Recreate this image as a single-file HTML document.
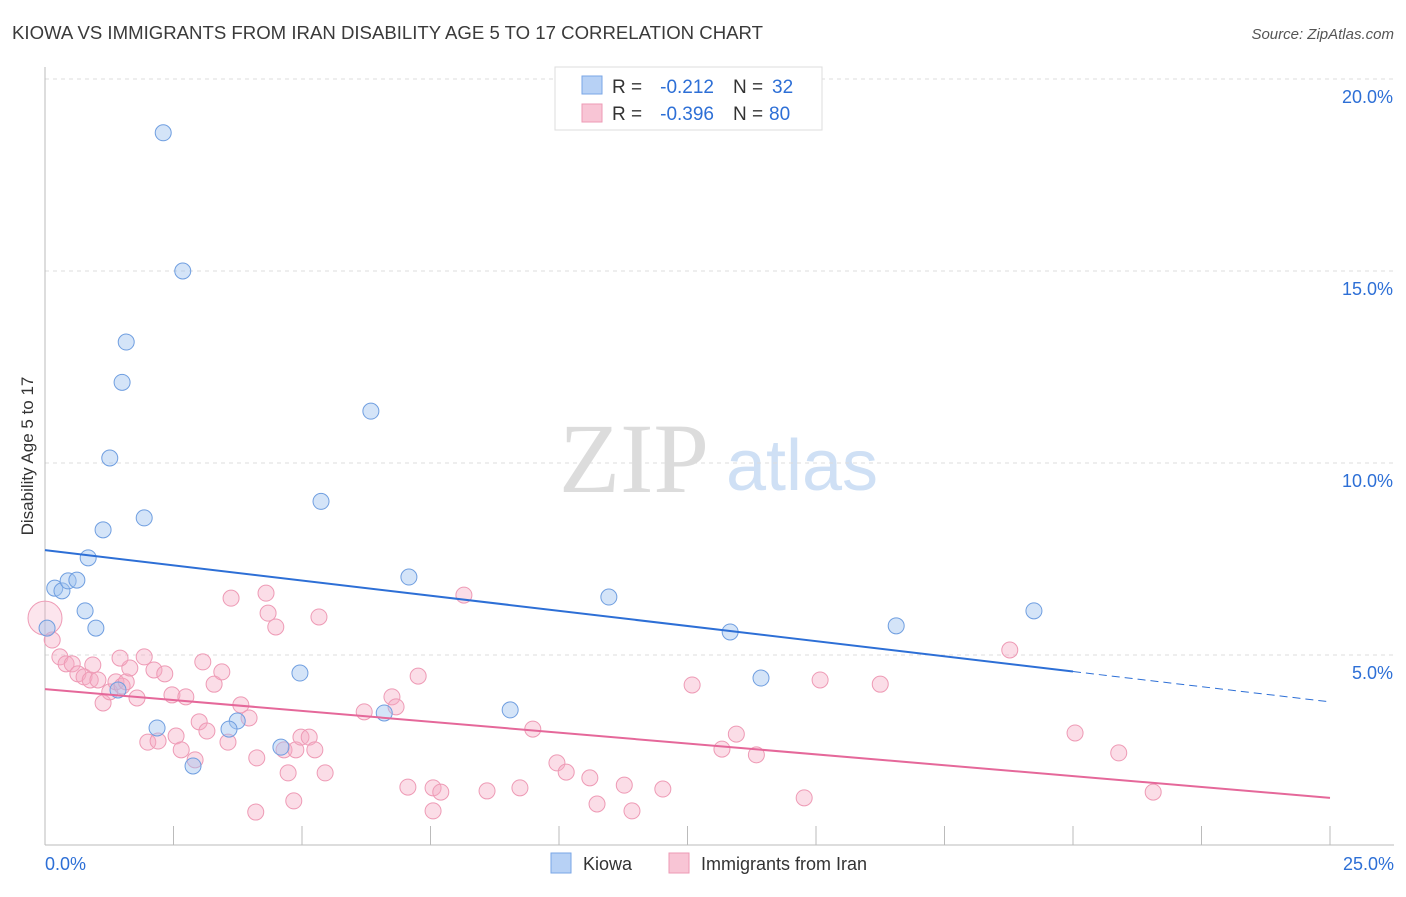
<!DOCTYPE html>
<html><head><meta charset="utf-8"><style>
body{margin:0;background:#fff;font-family:"Liberation Sans",sans-serif;}
</style></head><body>
<svg id="chart" width="1406" height="892" xmlns="http://www.w3.org/2000/svg" style="font-family:'Liberation Sans',sans-serif">
<text x="12" y="39" font-size="18" fill="#3a3a3a" textLength="751" lengthAdjust="spacingAndGlyphs">KIOWA VS IMMIGRANTS FROM IRAN DISABILITY AGE 5 TO 17 CORRELATION CHART</text>
<text x="1394" y="39" font-size="15" fill="#555" text-anchor="end" font-style="italic">Source: ZipAtlas.com</text>
<g><text x="634" y="492" font-size="100" fill="#dcdcdc" text-anchor="middle" style="font-family:'Liberation Serif',serif">ZIP</text><text x="802" y="490" font-size="72" fill="#cfe0f5" text-anchor="middle">atlas</text></g>
<g id="grid"></g><g id="axes"></g><g id="marks"></g>
<text transform="translate(33,456) rotate(-90)" font-size="17" fill="#333" text-anchor="middle">Disability Age 5 to 17</text>
<g>
<rect x="555" y="67" width="267" height="63" fill="#fff" stroke="#ddd"/>
<rect x="582" y="76" width="20" height="18" fill="#b7d1f5" stroke="#7aa6e6"/>
<rect x="582" y="104" width="20" height="18" fill="#f8c5d5" stroke="#ee9ab5"/>
<text x="612" y="93" font-size="19" fill="#333">R =</text>
<text x="714" y="93" font-size="19" fill="#2d6fd6" text-anchor="end">-0.212</text>
<text x="733" y="93" font-size="19" fill="#333">N =</text>
<text x="772" y="93" font-size="19" fill="#2d6fd6">32</text>
<text x="612" y="120" font-size="19" fill="#333">R =</text>
<text x="714" y="120" font-size="19" fill="#2d6fd6" text-anchor="end">-0.396</text>
<text x="733" y="120" font-size="19" fill="#333">N =</text>
<text x="769" y="120" font-size="19" fill="#2d6fd6">80</text>
</g>
<g>
<rect x="551" y="853" width="20" height="20" fill="#b7d1f5" stroke="#7aa6e6"/>
<text x="583" y="870" font-size="18" fill="#333">Kiowa</text>
<rect x="669" y="853" width="20" height="20" fill="#f8c5d5" stroke="#ee9ab5"/>
<text x="701" y="870" font-size="18" fill="#333">Immigrants from Iran</text>
</g>
</svg>
<script>
const kiowaX=[2.30,2.68,1.58,1.50,1.26,6.34,5.37,1.93,1.13,0.84,0.19,0.33,0.45,0.62,0.78,0.99,0.04,7.08,10.97,13.33,16.56,19.24,4.96,1.42,13.93,9.05,6.60,3.74,2.18,3.58,4.59,2.88];
const kiowaY=[18.6,15.0,13.15,12.1,10.13,11.35,9.0,8.57,8.26,7.53,6.74,6.67,6.93,6.95,6.15,5.70,5.70,7.03,6.51,5.60,5.76,6.15,4.53,4.09,4.40,3.57,3.49,3.28,3.10,3.07,2.60,2.11];
const iranX=[0.0,0.14,0.29,0.41,0.53,0.64,0.76,0.88,0.93,1.03,1.13,1.26,1.38,1.50,1.58,1.65,1.79,1.46,1.93,2.12,2.33,2.00,2.20,2.47,2.55,2.65,2.74,2.92,3.00,3.15,3.07,3.29,3.44,3.56,3.81,3.97,3.62,4.30,4.34,4.49,5.33,4.12,4.10,4.65,4.88,4.98,5.14,5.25,4.73,5.45,4.84,6.21,6.75,6.83,7.26,8.15,7.06,7.55,7.70,7.55,8.60,9.24,9.49,9.96,10.14,10.60,10.74,11.27,11.42,12.02,12.59,13.17,13.45,13.84,14.77,15.08,16.25,18.77,20.04,20.89,21.56];
const iranY=[5.96,5.39,4.95,4.77,4.77,4.51,4.43,4.35,4.74,4.35,3.75,4.04,4.30,4.19,4.30,4.66,3.88,4.92,4.95,4.61,4.51,2.73,2.76,3.96,2.89,2.53,3.91,2.27,3.26,3.02,4.82,4.24,4.56,2.73,3.70,3.36,6.48,6.61,6.09,5.73,5.99,2.32,0.91,2.53,2.53,2.86,2.86,2.53,1.93,1.93,1.20,3.52,3.91,3.65,4.45,6.56,1.56,1.54,1.43,0.94,1.46,1.54,3.07,2.19,1.95,1.80,1.12,1.61,0.94,1.51,4.22,2.55,2.94,2.40,1.28,4.35,4.24,5.13,2.97,2.45,1.43];
const kiowaTrend=[7.73,3.78];
const iranTrend=[4.11,1.28];
const yTicks=[5,10,15,20];
const yTickLabels=["5.0%","10.0%","15.0%","20.0%"];
const xTicks=[0,2.5,5,7.5,10,12.5,15,17.5,20,22.5,25];
const NS="http://www.w3.org/2000/svg";
const sx=v=>45+v*51.4, sy=v=>847-v*38.4;
function mk(tag,attrs,parent){const e=document.createElementNS(NS,tag);for(const k in attrs)e.setAttribute(k,attrs[k]);document.getElementById(parent).appendChild(e);return e;}
yTicks.forEach((t,i)=>{
 const g=mk('line',{x1:45,x2:1394,y1:sy(t),y2:sy(t),stroke:'#ddd','stroke-dasharray':'4,4'},'grid');
 
 
 const tx=mk('text',{x:1393,y:sy(t)+24,'font-size':18,fill:'#2d6fd6','text-anchor':'end'},'axes');
 tx.textContent=yTickLabels[i];
 
 
});
const ya=mk('line',{x1:45,x2:45,y1:67,y2:845,stroke:'#bbb'},'axes');


const xa=mk('line',{x1:45,x2:1394,y1:845,y2:845,stroke:'#bbb'},'axes');


xTicks.forEach(t=>{const l=mk('line',{x1:sx(t),x2:sx(t),y1:826,y2:845,stroke:'#bbb'},'axes');
 
 });
const xl0=mk('text',{x:45,y:870,'font-size':18,fill:'#2d6fd6'},'axes');xl0.textContent='0.0%';


const xl1=mk('text',{x:1394,y:870,'font-size':18,fill:'#2d6fd6','text-anchor':'end'},'axes');xl1.textContent='25.0%';


iranX.forEach((x,i)=>{const c=mk('circle',{cx:sx(x),cy:sy(iranY[i]),r:i===0?17:8,fill:i===0?'rgba(244,170,195,0.3)':'rgba(244,170,195,0.4)',stroke:'#ee9ab5','stroke-width':1},'marks');
 
 });
kiowaX.forEach((x,i)=>{const c=mk('circle',{cx:sx(x),cy:sy(kiowaY[i]),r:8,fill:'rgba(160,195,240,0.45)',stroke:'#6f9ee0','stroke-width':1},'marks');
 
 });
const kx=20, ky=kiowaTrend[0]+(kiowaTrend[1]-kiowaTrend[0])*kx/25;
const kl=mk('line',{x1:sx(0),y1:sy(kiowaTrend[0]),x2:sx(kx),y2:sy(ky),stroke:'#2d6fd6','stroke-width':2},'marks');


const kd=mk('line',{x1:sx(kx),y1:sy(ky),x2:sx(25),y2:sy(kiowaTrend[1]),stroke:'#2d6fd6','stroke-width':1,'stroke-dasharray':'8,5'},'marks');


const il=mk('line',{x1:sx(0),y1:sy(iranTrend[0]),x2:sx(25),y2:sy(iranTrend[1]),stroke:'#e5689a','stroke-width':2},'marks');


</script>
</body></html>
